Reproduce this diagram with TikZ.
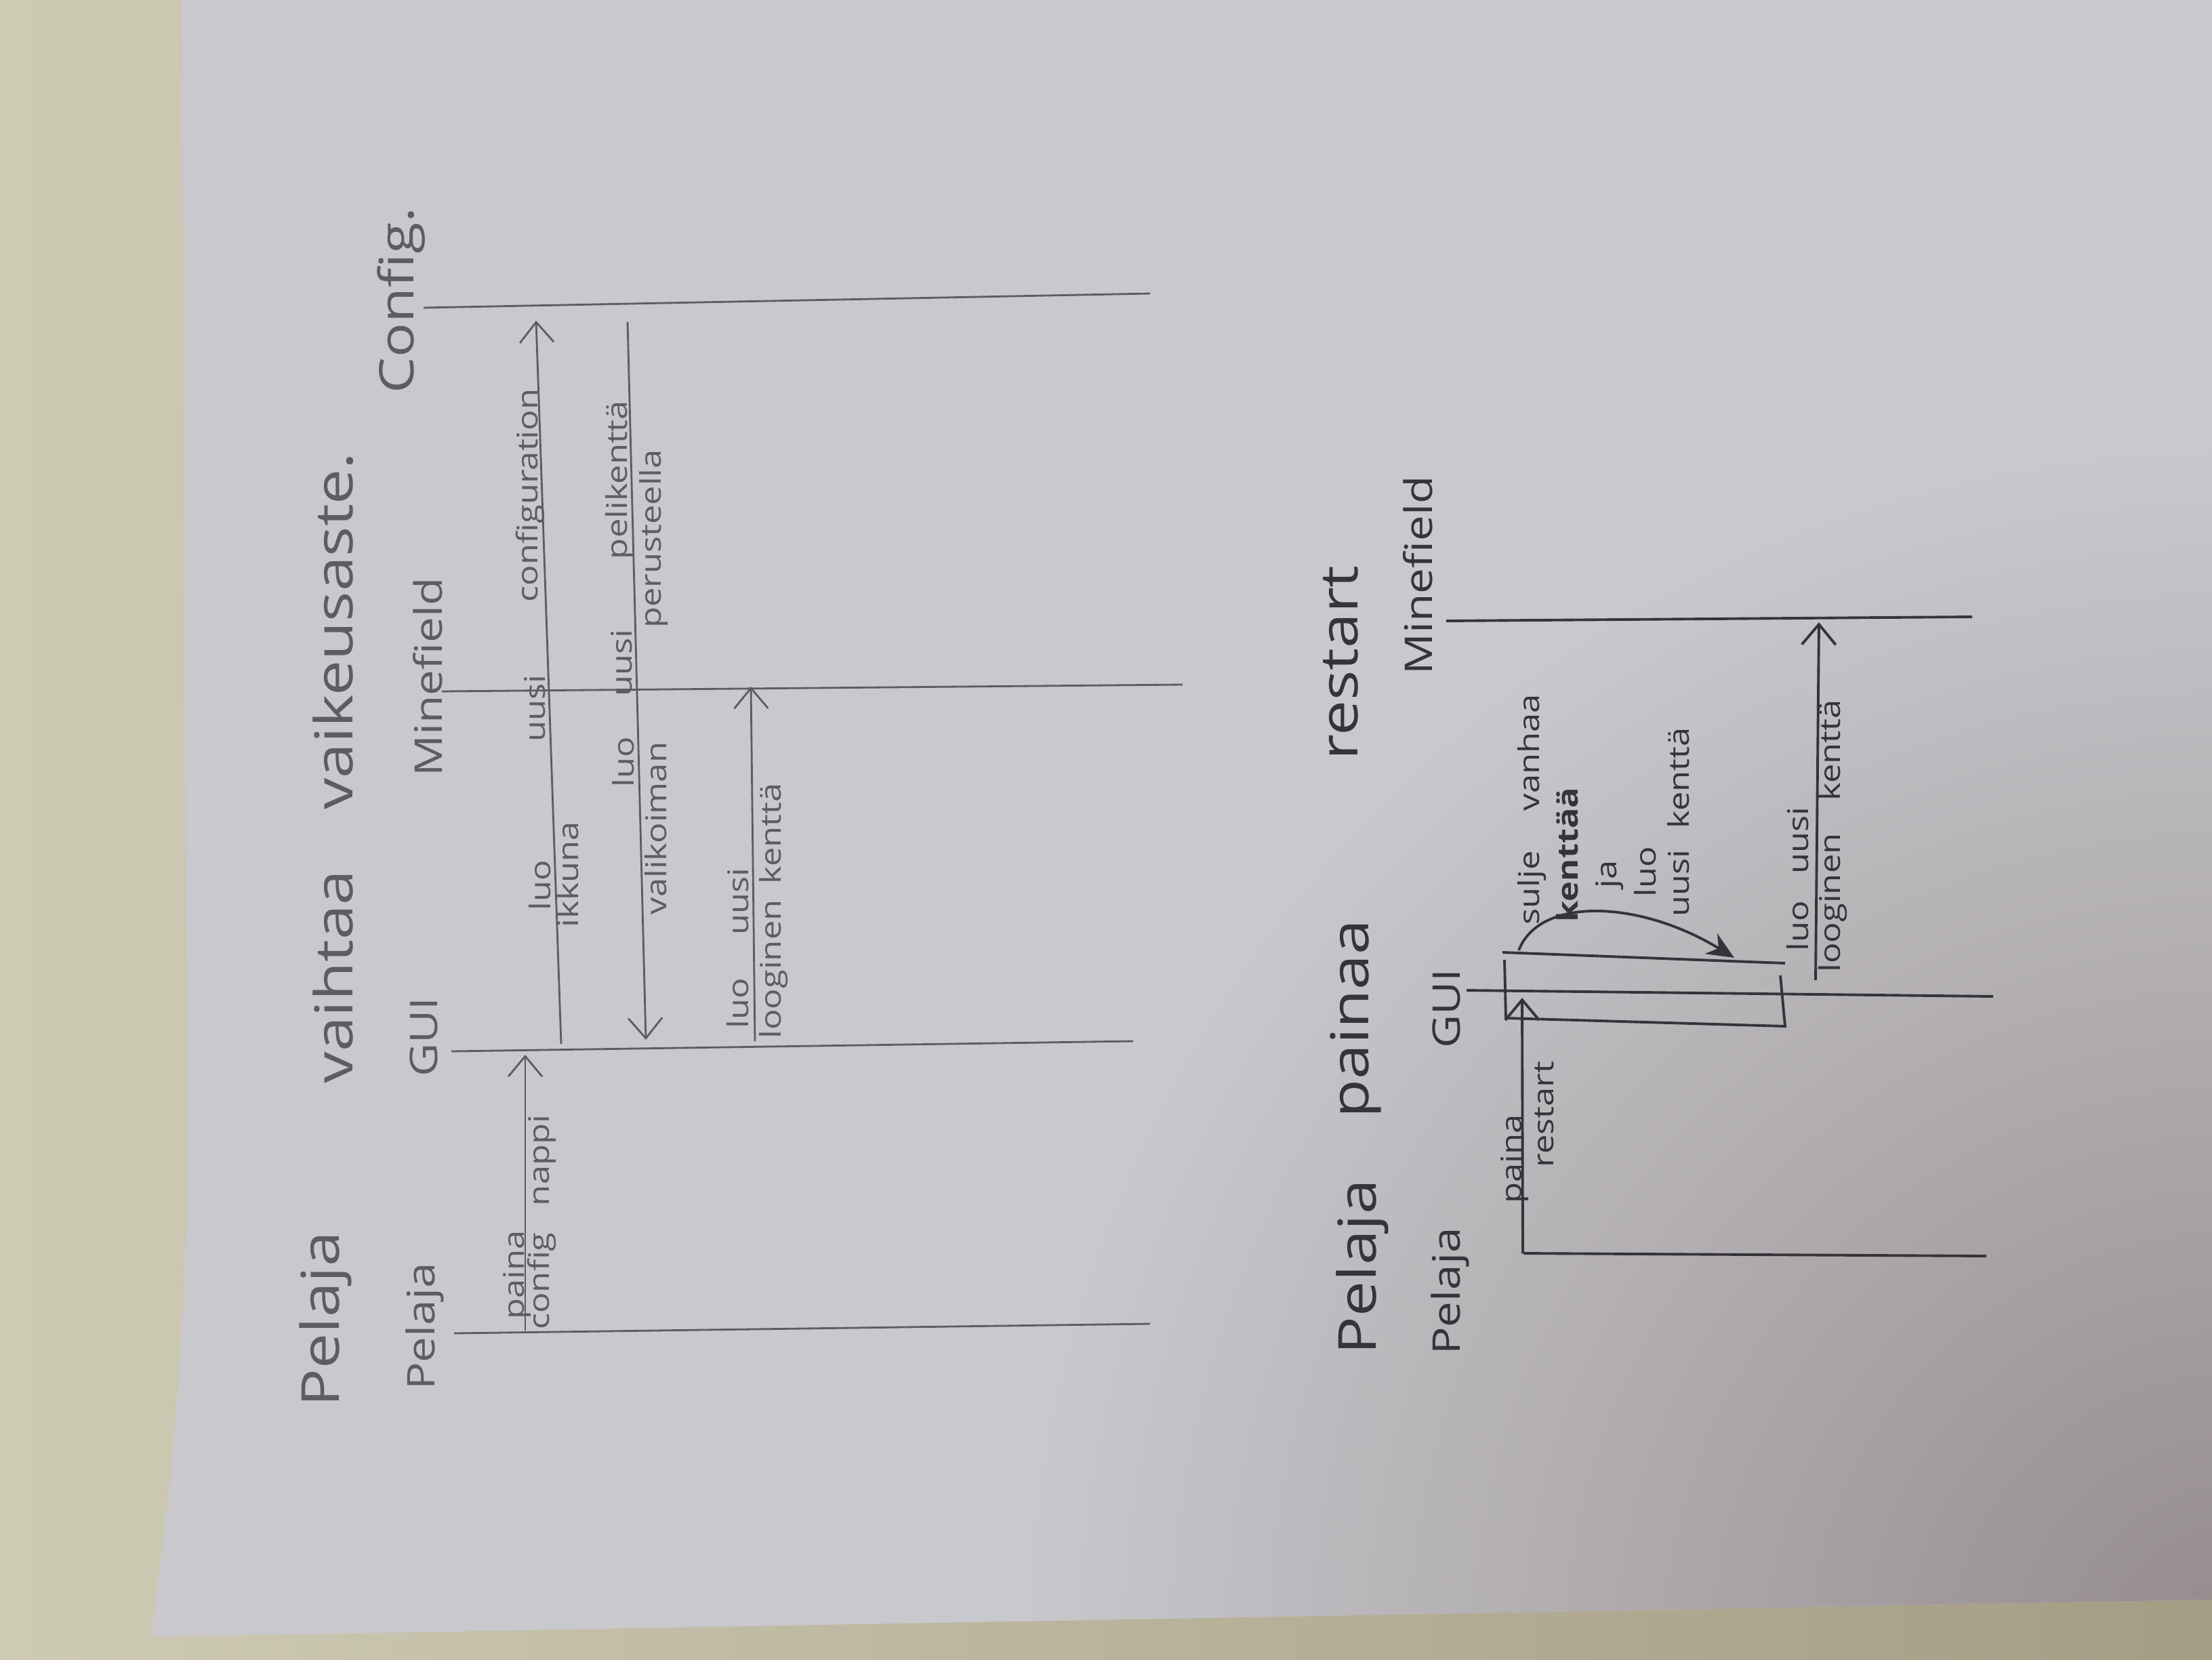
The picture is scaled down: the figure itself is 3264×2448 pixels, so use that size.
\documentclass[tikz,border=0pt]{standalone}
\usepackage{fontspec}
\setmainfont{Open Sans}
\usetikzlibrary{arrows.meta,shadings}
\definecolor{wallL}{RGB}{206,203,180}
\definecolor{wallR}{RGB}{165,156,132}
\definecolor{paperBase}{RGB}{200,200,205}
\definecolor{paperDark}{RGB}{148,139,139}
\definecolor{penA}{RGB}{92,92,98}
\definecolor{penB}{RGB}{52,52,58}
\newcommand\hwtext[2][1.2]{\scalebox{#1}[1]{#2}}
\begin{document}
\begin{tikzpicture}[x=0.01cm,y=-0.01cm,
  lab/.style={rotate=90, anchor=base, inner sep=0pt},
  ttlA/.style={lab, text=penA, font=\fontsize{22}{24}\selectfont},
  ttlB/.style={lab, text=penB, font=\fontsize{22}{24}\selectfont},
  nmA/.style={lab, text=penA, font=\fontsize{16}{18}\selectfont},
  nmB/.style={lab, text=penB, font=\fontsize{16}{18}\selectfont},
  mlA/.style={lab, text=penA, font=\fontsize{12}{14}\selectfont},
  mlB/.style={lab, text=penB, font=\fontsize{12}{14}\selectfont},
  lifeA/.style={draw=penA, line width=0.8pt},
  lifeB/.style={draw=penB, line width=1.1pt},
  msgA/.style={lifeA, -{Straight Barb[length=3mm,width=5mm]}},
  msgB/.style={lifeB, -{Straight Barb[length=3mm,width=5mm]}},
  selfB/.style={lifeB, -{Stealth[length=4mm,width=3.5mm]}}
]
\useasboundingbox (0,0) rectangle (3264,2448);
% wall and paper
\shade[left color=wallL, right color=wallR] (0,0) rectangle (3264,2448);
\begin{scope}
  \clip (268,0) -- (3264,0) -- (3264,2360) -- (222,2415)
    .. controls (245,2250) and (270,2050) .. (276,1750) -- cycle;
  \fill[paperBase] (0,0) rectangle (3264,2448);
  \shade[inner color=paperDark, outer color=paperBase] (3300,2450) circle (1800);
\end{scope}

% ================= top diagram =================
\node[ttlA] (t1a) at (500,1946) {\hwtext{Pelaja}};
\node[ttlA] (t1b) at (520,1441) {\hwtext{vaihtaa}};
\node[ttlA] (t1c) at (520,931) {\hwtext{vaikeusaste.}};

\node[nmA] (tPel) at (641,1957) {\hwtext{Pelaja}};
\node[nmA] (tGUI) at (645,1530) {\hwtext{GUI}};
\node[nmA] (tMin) at (652,999) {\hwtext{Minefield}};
\node[nmA, font=\fontsize{20}{22}\selectfont] (tCon) at (610,443) {\hwtext{Config.}};

\coordinate (tPelS) at (670,1967); \coordinate (tPelE) at (1697,1953);
\coordinate (tGUIS) at (666,1551); \coordinate (tGUIE) at (1672,1536);
\coordinate (tMinS) at (652,1020); \coordinate (tMinE) at (1745,1010);
\coordinate (tConS) at (625,454);  \coordinate (tConE) at (1697,433);
\draw[lifeA] (tPelS) -- (tPelE);
\draw[lifeA] (tGUIS) -- (tGUIE);
\draw[lifeA] (tMinS) -- (tMinE);
\draw[lifeA] (tConS) -- (tConE);

% message 1
\coordinate (m1s) at (775,1963); \coordinate (m1e) at (775,1556);
\draw[msgA] (m1s) -- (m1e);
\node[mlA] (m1a) at (773,1881) {\hwtext{paina}};
\node[mlA] (m1b) at (810,1890) {\hwtext{config}};
\node[mlA] (m1c) at (810,1712) {\hwtext{nappi}};

% message 2
\coordinate (m2s) at (828,1540); \coordinate (m2e) at (791,473);
\draw[msgA] (m2s) -- (m2e);
\node[mlA] (m2a) at (812,1306) {\hwtext{luo}};
\node[mlA] (m2b) at (804,1045) {\hwtext{uusi}};
\node[mlA] (m2c) at (793,731) {\hwtext{configuration}};
\node[mlA] (m2d) at (853,1290) {\hwtext{ikkuna}};

% message 3
\coordinate (m3s) at (926,475); \coordinate (m3e) at (953,1534);
\draw[msgA] (m3s) -- (m3e);
\node[mlA] (m3a) at (935,1124) {\hwtext{luo}};
\node[mlA] (m3b) at (932,978) {\hwtext{uusi}};
\node[mlA] (m3c) at (925,708) {\hwtext{pelikenttä}};
\node[mlA] (m3d) at (983,1222) {\hwtext{valikoiman}};
\node[mlA] (m3e2) at (975,795) {\hwtext{perusteella}};

% message 4
\coordinate (m4s) at (1114,1536); \coordinate (m4e) at (1108,1013);
\draw[msgA] (m4s) -- (m4e);
\node[mlA] (m4a) at (1104,1480) {\hwtext{luo}};
\node[mlA] (m4b) at (1104,1330) {\hwtext{uusi}};
\node[mlA] (m4c) at (1152,1430) {\hwtext{looginen}};
\node[mlA] (m4d) at (1152,1230) {\hwtext{kenttä}};

% ================= bottom diagram =================
\node[ttlB] (t2a) at (2030,1869) {\hwtext{Pelaja}};
\node[ttlB] (t2b) at (2019,1503) {\hwtext{painaa}};
\node[ttlB] (t2c) at (2003,978) {\hwtext{restart}};

\node[nmB] (bPel) at (2154,1905) {\hwtext{Pelaja}};
\node[nmB] (bGUI) at (2154,1488) {\hwtext{GUI}};
\node[nmB] (bMin) at (2113,849) {\hwtext{Minefield}};

\coordinate (bPelS) at (2248,1849); \coordinate (bPelE) at (2931,1853);
\coordinate (bGUIS) at (2164,1461); \coordinate (bGUIE) at (2941,1470);
\coordinate (bMinS) at (2134,916);  \coordinate (bMinE) at (2910,910);
\draw[lifeB] (bPelS) -- (bPelE);
\draw[lifeB] (bGUIS) -- (bGUIE);
\draw[lifeB] (bMinS) -- (bMinE);

% activation box
\coordinate (bx1) at (2217,1405); \coordinate (bx2) at (2634,1421);
\coordinate (bx3) at (2220,1416); \coordinate (bx4) at (2222,1502);
\coordinate (bx5) at (2634,1514); \coordinate (bx6) at (2627,1439);
\draw[lifeB] (bx1) -- (bx2);
\draw[lifeB] (bx3) -- (bx4) -- (bx5) -- (bx6);

% paina restart
\coordinate (n1s) at (2247,1849); \coordinate (n1e) at (2246,1472);
\draw[msgB] (n1s) -- (n1e);
\node[mlB] (n1a) at (2245,1710) {\hwtext{paina}};
\node[mlB] (n1b) at (2292,1644) {\hwtext{restart}};

% self call
\coordinate (n2s) at (2241,1402); \coordinate (n2e) at (2559,1413);
\draw[selfB] (n2s) .. controls (2272,1322) and (2420,1328) .. (n2e);
\node[mlB] (n2a) at (2271,1310) {\hwtext{sulje}};
\node[mlB] (n2b) at (2271,1110) {\hwtext{vanhaa}};
\node[mlB, font=\bfseries\fontsize{12}{14}\selectfont] (n2c) at (2328,1261) {\hwtext{kenttää}};
\node[mlB] (n2d) at (2385,1290) {\hwtext{ja}};
\node[mlB] (n2e2) at (2443,1286) {\hwtext{luo}};
\node[mlB] (n2f) at (2492,1303) {\hwtext{uusi}};
\node[mlB] (n2g) at (2492,1148) {\hwtext{kenttä}};

% luo uusi looginen kentta
\coordinate (n3s) at (2679,1446); \coordinate (n3e) at (2684,918);
\draw[msgB] (n3s) -- (n3e);
\node[mlB] (n3a) at (2668,1366) {\hwtext{luo}};
\node[mlB] (n3b) at (2668,1240) {\hwtext{uusi}};
\node[mlB] (n3c) at (2715,1332) {\hwtext{looginen}};
\node[mlB] (n3d) at (2715,1107) {\hwtext{kenttä}};
\end{tikzpicture}
\end{document}
